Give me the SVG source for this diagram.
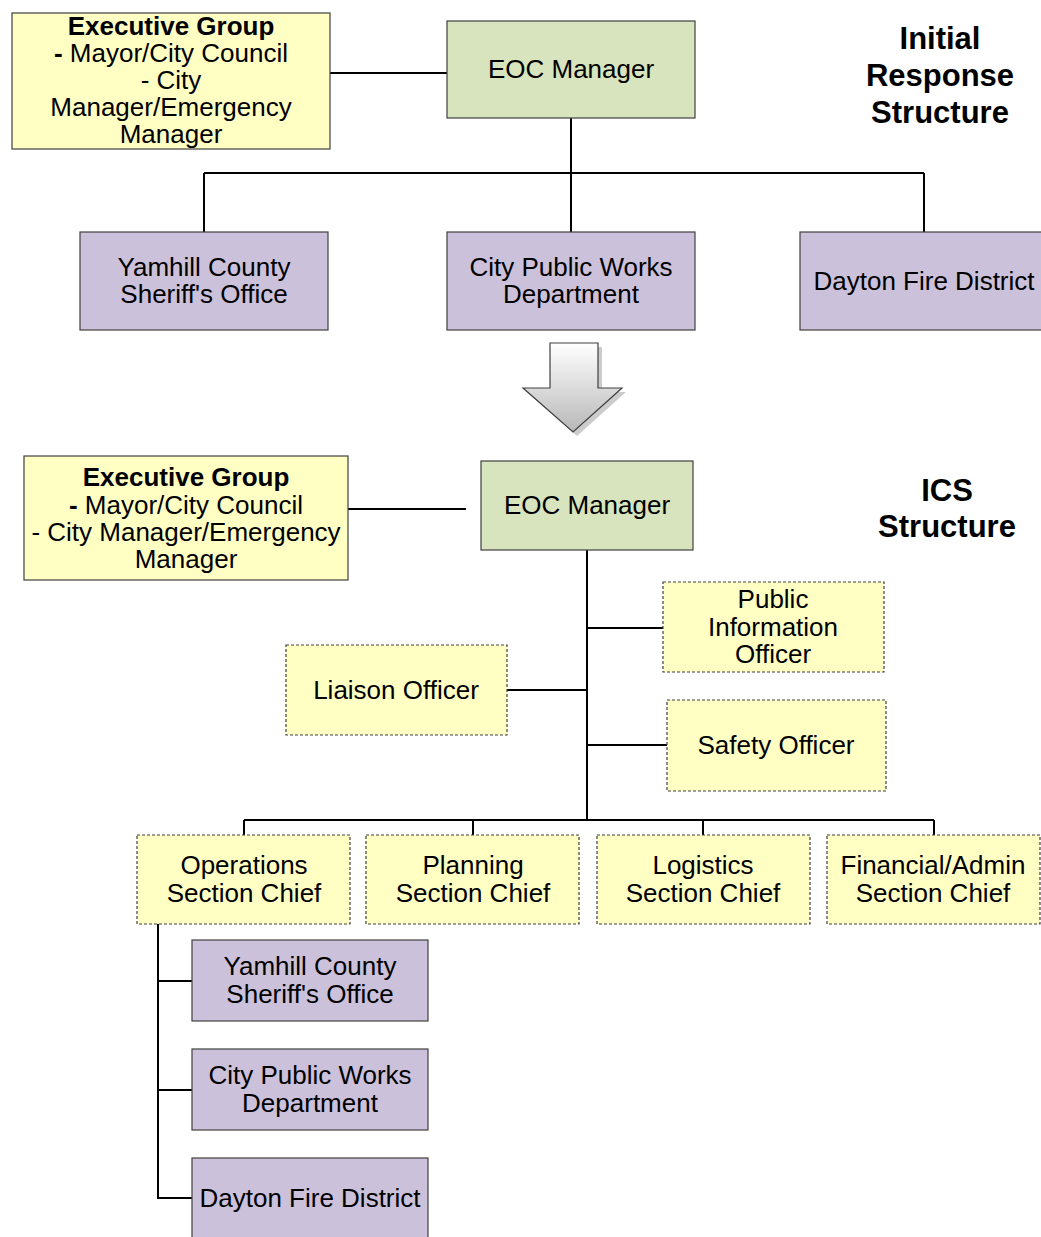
<svg xmlns="http://www.w3.org/2000/svg" width="1041" height="1237" viewBox="0 0 1041 1237">
<style>
text{font-family:"Liberation Sans",Arial,sans-serif;font-size:26px;fill:#000;text-anchor:middle}
.b{font-weight:bold}
.t{font-weight:bold;font-size:31px}
.y{fill:#FFFFC4;stroke:#404040;stroke-width:1.2}
.yd{fill:#FFFFC4;stroke:#404040;stroke-width:1.2;stroke-dasharray:3,2}
.g{fill:#D7E4BD;stroke:#404040;stroke-width:1.2}
.p{fill:#CCC1DA;stroke:#404040;stroke-width:1.2}
.c{stroke:#000;stroke-width:2;fill:none}
</style>
<defs>
<linearGradient id="ag" x1="0" y1="0" x2="0" y2="1">
<stop offset="0" stop-color="#ffffff"/>
<stop offset="1" stop-color="#b8b8b8"/>
</linearGradient>
</defs>
<rect width="1041" height="1237" fill="#fff"/>
<g id="connectors">
<path class="c" d="M330 73H447"/>
<path class="c" d="M571 118V173M204 173H924M204 173V232M571 173V232M924 173V232"/>
<path class="c" d="M342 509H466"/>
<path class="c" d="M587 550V820M587 628H663M507 690H587M587 745H667"/>
<path class="c" d="M244 820H934M244 820V835M473 820V835M703 820V835M934 820V835"/>
<path class="c" d="M158 924V1198H192M158 981H192M158 1090H192"/>
</g>
<g id="title1">
<text class="t" x="940" y="49">Initial</text>
<text class="t" x="940" y="86">Response</text>
<text class="t" x="940" y="123">Structure</text>
</g>
<g id="exec1">
<rect class="y" x="12" y="13" width="318" height="136"/>
<text x="171" y="35"><tspan class="b">Executive Group</tspan></text>
<text x="171" y="62"><tspan class="b">-</tspan> Mayor/City Council</text>
<text x="171" y="89">- City</text>
<text x="171" y="116">Manager/Emergency</text>
<text x="171" y="143">Manager</text>
</g>
<g id="eoc1">
<rect class="g" x="447" y="21" width="248" height="97"/>
<text x="571" y="78">EOC Manager</text>
</g>
<g id="ycso1">
<rect class="p" x="80" y="232" width="248" height="98"/>
<text x="204" y="276">Yamhill County</text>
<text x="204" y="303">Sheriff's Office</text>
</g>
<g id="cpw1">
<rect class="p" x="447" y="232" width="248" height="98"/>
<text x="571" y="276">City Public Works</text>
<text x="571" y="303">Department</text>
</g>
<g id="dfd1">
<rect class="p" x="800" y="232" width="250" height="98"/>
<text x="924" y="290">Dayton Fire District</text>
</g>
<g id="arrow">
<path d="M554 347H602V392H626L577 436L527 392H554Z" fill="#9a9a9a" opacity="0.5"/>
<path d="M550 343H598V388H622L573 432L523 388H550Z" fill="url(#ag)" stroke="#404040" stroke-width="1.2"/>
</g>
<g id="title2">
<text class="t" x="947" y="501">ICS</text>
<text class="t" x="947" y="537">Structure</text>
</g>
<g id="exec2">
<rect class="y" x="24" y="456" width="324" height="124"/>
<text x="186" y="486"><tspan class="b">Executive Group</tspan></text>
<text x="186" y="514"><tspan class="b">-</tspan> Mayor/City Council</text>
<text x="186" y="541">- City Manager/Emergency</text>
<text x="186" y="568">Manager</text>
</g>
<g id="eoc2">
<rect class="g" x="481" y="461" width="212" height="89"/>
<text x="587" y="514">EOC Manager</text>
</g>
<g id="pio">
<rect class="yd" x="663" y="582" width="221" height="90"/>
<text x="773" y="608">Public</text>
<text x="773" y="636">Information</text>
<text x="773" y="663">Officer</text>
</g>
<g id="liaison">
<rect class="yd" x="286" y="645" width="221" height="90"/>
<text x="396" y="699">Liaison Officer</text>
</g>
<g id="safety">
<rect class="yd" x="667" y="700" width="219" height="91"/>
<text x="776" y="754">Safety Officer</text>
</g>
<g id="ops">
<rect class="yd" x="137" y="835" width="213" height="89"/>
<text x="244" y="874">Operations</text>
<text x="244" y="902">Section Chief</text>
</g>
<g id="planning">
<rect class="yd" x="366" y="835" width="213" height="89"/>
<text x="473" y="874">Planning</text>
<text x="473" y="902">Section Chief</text>
</g>
<g id="logistics">
<rect class="yd" x="597" y="835" width="213" height="89"/>
<text x="703" y="874">Logistics</text>
<text x="703" y="902">Section Chief</text>
</g>
<g id="finance">
<rect class="yd" x="827" y="835" width="213" height="89"/>
<text x="933" y="874">Financial/Admin</text>
<text x="933" y="902">Section Chief</text>
</g>
<g id="ycso2">
<rect class="p" x="192" y="940" width="236" height="81"/>
<text x="310" y="975">Yamhill County</text>
<text x="310" y="1003">Sheriff's Office</text>
</g>
<g id="cpw2">
<rect class="p" x="192" y="1049" width="236" height="81"/>
<text x="310" y="1084">City Public Works</text>
<text x="310" y="1112">Department</text>
</g>
<g id="dfd2">
<rect class="p" x="192" y="1158" width="236" height="90"/>
<text x="310" y="1207">Dayton Fire District</text>
</g>
</svg>
